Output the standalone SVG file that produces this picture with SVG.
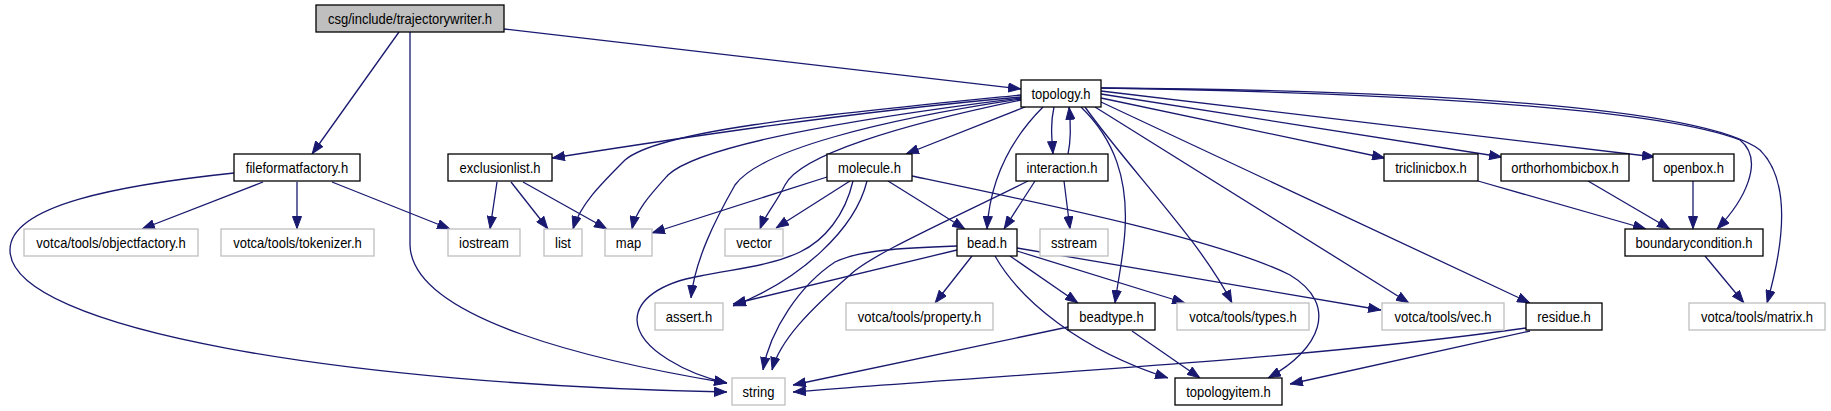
<svg xmlns="http://www.w3.org/2000/svg" width="1831" height="411" viewBox="0 0 1831 411">
<defs>
<style>
.nd rect{fill:#ffffff;stroke:#000000;stroke-width:1.3}
.nd.g rect{stroke:#bfbfbf}
.nd.root rect{fill:#bfbfbf}
.nd text{font-family:"Liberation Sans",Arial,sans-serif;font-size:14px;text-anchor:middle;fill:#000000}
#edges path{fill:none;stroke:#191970;stroke-width:1.3;marker-end:url(#ah)}
</style>
<marker id="ah" markerUnits="userSpaceOnUse" markerWidth="13" markerHeight="10" viewBox="0 0 13 10" refX="13" refY="5" orient="auto">
<path d="M0.5,0.5 L12.5,5 L0.5,9.5 z" fill="#191970" stroke="#191970" stroke-width="1"/>
</marker>
</defs>
<rect x="0" y="0" width="1831" height="411" fill="#ffffff"/>
<g id="edges">
<path d="M399,32 L312,154"/>
<path d="M410,32 L410,245 C412,320 600,362 727,383"/>
<path d="M504,29 L1021,89"/>
<path d="M263,182 L142,229"/>
<path d="M297,182 L297,229"/>
<path d="M332,182 L450,229"/>
<path d="M234,173 C120,185 10,205 10,250 C10,330 350,385 727,392"/>
<path d="M497,182 L490,229"/>
<path d="M511,182 L548,229"/>
<path d="M523,182 L607,229"/>
<path d="M1021,97 C850,112 680,138 552,158"/>
<path d="M1021,95 C820,115 660,130 625,160 C600,185 580,205 573,229"/>
<path d="M1021,98 C860,118 700,145 668,175 C650,195 636,210 632,229"/>
<path d="M1021,100 C900,125 800,155 785,185 C775,205 765,215 760,229"/>
<path d="M1021,99 C880,120 760,150 735,185 C715,220 695,260 691,298"/>
<path d="M1025,107 L906,154"/>
<path d="M1043,107 C1010,140 990,180 987,229"/>
<path d="M1054,107 C1050,125 1052,140 1053,154"/>
<path d="M1068,154 C1071,140 1071,125 1069,107"/>
<path d="M1081,107 C1115,140 1128,180 1125,230 C1123,260 1118,280 1115,303"/>
<path d="M1085,107 C1130,170 1200,240 1232,303"/>
<path d="M1095,107 L1409,303"/>
<path d="M1101,102 L1530,303"/>
<path d="M1101,98 L1385,158"/>
<path d="M1101,94 L1502,157"/>
<path d="M1101,91 L1655,157"/>
<path d="M1101,88 C1350,92 1650,105 1740,140 C1765,160 1745,200 1717,229"/>
<path d="M1101,88 C1400,90 1700,105 1760,150 C1790,180 1785,240 1767,303"/>
<path d="M827,177 L652,233"/>
<path d="M850,181 L776,228"/>
<path d="M888,181 L965,229"/>
<path d="M867,181 C855,230 800,280 733,306"/>
<path d="M853,181 C845,215 825,240 800,252 C770,266 740,268 700,276 C660,283 637,300 637,320 C638,350 690,375 727,383"/>
<path d="M912,176 C1050,205 1220,240 1290,275 C1340,305 1320,350 1268,378"/>
<path d="M1035,181 L1004,229"/>
<path d="M1064,181 L1070,229"/>
<path d="M1028,181 C950,220 870,255 850,275 C810,310 780,340 772,370"/>
<path d="M957,250 L733,304"/>
<path d="M957,246 C900,248 860,250 835,262 C800,285 770,330 763,370"/>
<path d="M972,256 L935,303"/>
<path d="M1010,256 L1078,303"/>
<path d="M995,256 C1020,300 1080,350 1168,378"/>
<path d="M1017,251 L1185,303"/>
<path d="M1017,248 L1381,310"/>
<path d="M1068,327 L793,385"/>
<path d="M1132,331 L1200,378"/>
<path d="M1526,328 C1300,360 1000,375 793,392"/>
<path d="M1530,331 L1290,384"/>
<path d="M1478,181 L1646,229"/>
<path d="M1588,181 L1670,229"/>
<path d="M1693,181 L1693,229"/>
<path d="M1705,256 L1744,303"/>
</g>
<g id="n_trajectorywriter" class="nd root"><rect x="316" y="5" width="188" height="27"/><text transform="translate(410,23.5) scale(0.93,1)">csg/include/trajectorywriter.h</text></g>
<g id="n_topology" class="nd"><rect x="1021" y="80" width="80" height="27"/><text transform="translate(1061,98.5) scale(0.93,1)">topology.h</text></g>
<g id="n_fileformatfactory" class="nd"><rect x="234" y="154" width="126" height="27"/><text transform="translate(297,172.5) scale(0.93,1)">fileformatfactory.h</text></g>
<g id="n_exclusionlist" class="nd"><rect x="448" y="154" width="104" height="27"/><text transform="translate(500,172.5) scale(0.93,1)">exclusionlist.h</text></g>
<g id="n_molecule" class="nd"><rect x="827" y="154" width="85" height="27"/><text transform="translate(869.5,172.5) scale(0.93,1)">molecule.h</text></g>
<g id="n_interaction" class="nd"><rect x="1016" y="154" width="92" height="27"/><text transform="translate(1062,172.5) scale(0.93,1)">interaction.h</text></g>
<g id="n_triclinicbox" class="nd"><rect x="1384" y="154" width="94" height="27"/><text transform="translate(1431,172.5) scale(0.93,1)">triclinicbox.h</text></g>
<g id="n_orthorhombicbox" class="nd"><rect x="1501" y="154" width="128" height="27"/><text transform="translate(1565,172.5) scale(0.93,1)">orthorhombicbox.h</text></g>
<g id="n_openbox" class="nd"><rect x="1653" y="154" width="81" height="27"/><text transform="translate(1693.5,172.5) scale(0.93,1)">openbox.h</text></g>
<g id="n_objectfactory" class="nd g"><rect x="24" y="229" width="174" height="27"/><text transform="translate(111,247.5) scale(0.93,1)">votca/tools/objectfactory.h</text></g>
<g id="n_tokenizer" class="nd g"><rect x="221" y="229" width="153" height="27"/><text transform="translate(297.5,247.5) scale(0.93,1)">votca/tools/tokenizer.h</text></g>
<g id="n_iostream" class="nd g"><rect x="448" y="229" width="72" height="27"/><text transform="translate(484,247.5) scale(0.93,1)">iostream</text></g>
<g id="n_list" class="nd g"><rect x="544" y="229" width="38" height="27"/><text transform="translate(563,247.5) scale(0.93,1)">list</text></g>
<g id="n_map" class="nd g"><rect x="605" y="229" width="47" height="27"/><text transform="translate(628.5,247.5) scale(0.93,1)">map</text></g>
<g id="n_vector" class="nd g"><rect x="725" y="229" width="58" height="27"/><text transform="translate(754,247.5) scale(0.93,1)">vector</text></g>
<g id="n_bead" class="nd"><rect x="957" y="229" width="60" height="27"/><text transform="translate(987,247.5) scale(0.93,1)">bead.h</text></g>
<g id="n_sstream" class="nd g"><rect x="1040" y="229" width="68" height="27"/><text transform="translate(1074,247.5) scale(0.93,1)">sstream</text></g>
<g id="n_boundarycondition" class="nd"><rect x="1625" y="229" width="138" height="27"/><text transform="translate(1694,247.5) scale(0.93,1)">boundarycondition.h</text></g>
<g id="n_assert" class="nd g"><rect x="655" y="303" width="68" height="27"/><text transform="translate(689,321.5) scale(0.93,1)">assert.h</text></g>
<g id="n_property" class="nd g"><rect x="846" y="303" width="147" height="27"/><text transform="translate(919.5,321.5) scale(0.93,1)">votca/tools/property.h</text></g>
<g id="n_beadtype" class="nd"><rect x="1068" y="303" width="87" height="27"/><text transform="translate(1111.5,321.5) scale(0.93,1)">beadtype.h</text></g>
<g id="n_types" class="nd g"><rect x="1177" y="303" width="132" height="27"/><text transform="translate(1243,321.5) scale(0.93,1)">votca/tools/types.h</text></g>
<g id="n_vec" class="nd g"><rect x="1382" y="303" width="122" height="27"/><text transform="translate(1443,321.5) scale(0.93,1)">votca/tools/vec.h</text></g>
<g id="n_residue" class="nd"><rect x="1526" y="303" width="76" height="27"/><text transform="translate(1564,321.5) scale(0.93,1)">residue.h</text></g>
<g id="n_matrix" class="nd g"><rect x="1689" y="303" width="136" height="27"/><text transform="translate(1757,321.5) scale(0.93,1)">votca/tools/matrix.h</text></g>
<g id="n_string" class="nd g"><rect x="732" y="378" width="53" height="27"/><text transform="translate(758.5,396.5) scale(0.93,1)">string</text></g>
<g id="n_topologyitem" class="nd"><rect x="1175" y="378" width="107" height="27"/><text transform="translate(1228.5,396.5) scale(0.93,1)">topologyitem.h</text></g>
</svg>
